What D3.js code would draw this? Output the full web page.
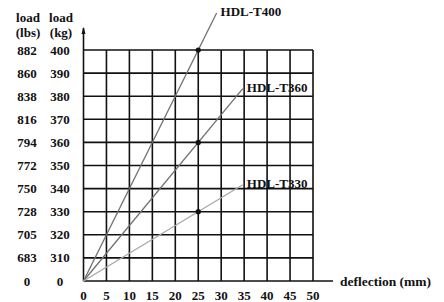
<!DOCTYPE html>
<html>
<head>
<meta charset="utf-8">
<script src="https://cdn.jsdelivr.net/npm/d3@7"></script>
<style>
  body { margin: 0; background: #fff; }
  text { font-family: "Liberation Serif", "Times New Roman", serif; font-weight: bold; fill: #111; }
</style>
</head>
<body>
<div class="chart"></div>
<script>
// y levels are evenly spaced even though the first step jumps from 0 to 310
const kgTicks = [0, 310, 320, 330, 340, 350, 360, 370, 380, 390, 400];
const lbsTicks = [0, 683, 705, 728, 750, 772, 794, 816, 838, 860, 882];
const xTicks = [0, 5, 10, 15, 20, 25, 30, 35, 40, 45, 50];

const models = ["HDL-T400", "HDL-T360", "HDL-T330"];
const ratedDeflection = [25, 25, 25];
const ratedLoad = [400, 360, 330];
// where each line is drawn out to (deflection, mm) before the label
const lineEnd = [29, 34.7, 34.7];
const lineColors = ["#707070", "#707070", "#a8a8a8"];

const W = 444, H = 302;
const margin = { top: 50, right: 131, bottom: 21, left: 83.5 };

const svg = d3.select(".chart").append("svg")
    .attr("width", W)
    .attr("height", H);

const x = d3.scaleLinear()
    .domain([0, 50])
    .range([margin.left, W - margin.right]);

// index scale: level i -> pixel
const yi = d3.scaleLinear()
    .domain([0, kgTicks.length - 1])
    .range([H - margin.bottom, margin.top]);

// kg value -> pixel, following the broken axis (0, then 300..400)
function y(kg) {
    if (kg <= 0) return yi(0);
    return yi((kg - 300) / 10);
}

const grid = svg.append("g").attr("stroke", "#111").attr("stroke-width", 1.6);

grid.selectAll(".h")
    .data(kgTicks)
    .enter()
    .append("line")
    .attr("x1", x(0))
    .attr("x2", (d, i) => i === 0 ? x(50) + 20 : x(50))
    .attr("y1", (d, i) => yi(i))
    .attr("y2", (d, i) => yi(i));

grid.selectAll(".v")
    .data(xTicks)
    .enter()
    .append("line")
    .attr("x1", d => x(d))
    .attr("x2", d => x(d))
    .attr("y1", yi(0))
    .attr("y2", d => d === 0 ? 28 : yi(kgTicks.length - 1));

// small arrowhead on y axis
svg.append("path")
    .attr("d", `M${x(0) - 2},34 L${x(0)},27 L${x(0) + 2},34 Z`)
    .attr("fill", "#111");

// load lines from the origin through the rated point
models.forEach((m, i) => {
    const slope = (y(ratedLoad[i]) - y(0)) / (x(ratedDeflection[i]) - x(0));
    const xe = x(lineEnd[i]);
    const ye = y(0) + slope * (xe - x(0));
    svg.append("line")
        .attr("x1", x(0))
        .attr("y1", y(0))
        .attr("x2", xe)
        .attr("y2", ye)
        .attr("stroke", lineColors[i])
        .attr("stroke-width", 1.3);
    svg.append("circle")
        .attr("cx", x(ratedDeflection[i]))
        .attr("cy", y(ratedLoad[i]))
        .attr("r", 2.6)
        .attr("fill", "#111");
    svg.append("text")
        .attr("x", xe + 4)
        .attr("y", ye + 3)
        .attr("font-size", 13)
        .text(m);
});

// y tick labels, two columns
svg.selectAll(".lbs")
    .data(lbsTicks)
    .enter()
    .append("text")
    .attr("x", 27)
    .attr("y", (d, i) => yi(i) + 4.5)
    .attr("text-anchor", "middle")
    .attr("font-size", 13)
    .text(d => d);

svg.selectAll(".kg")
    .data(kgTicks)
    .enter()
    .append("text")
    .attr("x", 60)
    .attr("y", (d, i) => yi(i) + 4.5)
    .attr("text-anchor", "middle")
    .attr("font-size", 13)
    .text(d => d);

const heads = [["load", "(lbs)", 28], ["load", "(kg)", 61]];
heads.forEach(h => {
    svg.append("text").attr("x", h[2]).attr("y", 22)
        .attr("text-anchor", "middle").attr("font-size", 13).text(h[0]);
    svg.append("text").attr("x", h[2]).attr("y", 37)
        .attr("text-anchor", "middle").attr("font-size", 13).text(h[1]);
});

// x tick labels
svg.selectAll(".xt")
    .data(xTicks)
    .enter()
    .append("text")
    .attr("x", d => x(d))
    .attr("y", 300)
    .attr("text-anchor", "middle")
    .attr("font-size", 13)
    .text(d => d);

svg.append("text")
    .attr("x", 340)
    .attr("y", 286)
    .attr("font-size", 13.5)
    .text("deflection (mm)");
</script>
</body>
</html>
